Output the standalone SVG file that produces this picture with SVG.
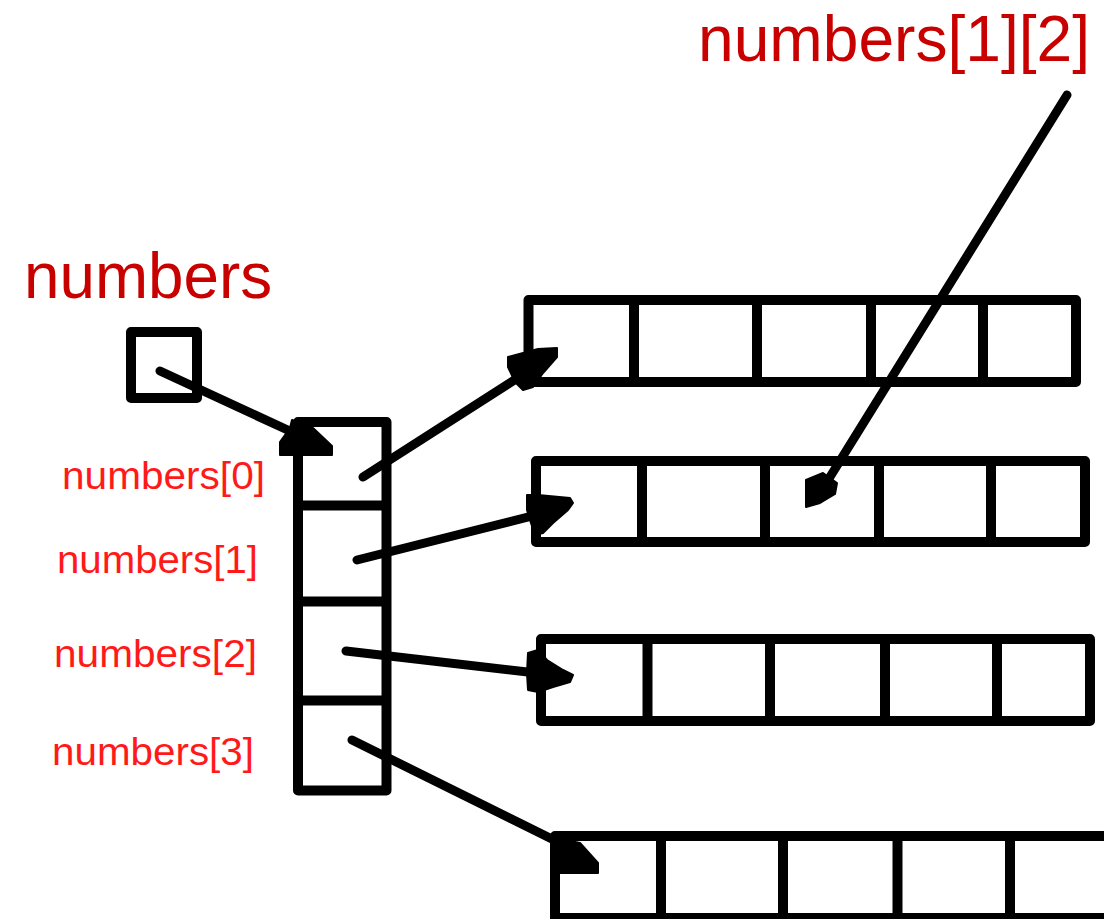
<svg xmlns="http://www.w3.org/2000/svg" width="1104" height="919" viewBox="0 0 1104 919">
<style>
.box{fill:none;stroke:#000;stroke-width:10;stroke-linejoin:round}
.div{stroke:#000;stroke-width:10}
.con{stroke:#000;stroke-width:9;stroke-linecap:round;fill:none}
.head{fill:#000;stroke:#000;stroke-width:2;stroke-linejoin:round}
.big{font-family:"Liberation Sans",Arial,sans-serif;font-size:64px;fill:#c80000}
.small{font-family:"Liberation Sans",Arial,sans-serif;font-size:39px;fill:#ff1a1a}
</style>
<rect width="1104" height="919" fill="#fff"/>
<g id="label-numbers"><text class="big" x="24" y="298" textLength="248" lengthAdjust="spacingAndGlyphs">numbers</text></g>
<g id="label-numbers12"><text class="big" x="698" y="61" textLength="392" lengthAdjust="spacingAndGlyphs">numbers[1][2]</text></g>
<g id="box-numbers"><rect class="box" x="131" y="332" width="66" height="66"/></g>
<g id="column">
<rect class="box" x="298" y="422" width="88.5" height="368.5"/>
<line class="div" x1="298" y1="505.5" x2="386.5" y2="505.5"/>
<line class="div" x1="298" y1="601.5" x2="386.5" y2="601.5"/>
<line class="div" x1="298" y1="700.5" x2="386.5" y2="700.5"/>
</g>
<g id="index-labels">
<text class="small" x="62" y="489" textLength="203" lengthAdjust="spacingAndGlyphs">numbers[0]</text>
<text class="small" x="57" y="573" textLength="201" lengthAdjust="spacingAndGlyphs">numbers[1]</text>
<text class="small" x="54" y="667" textLength="203" lengthAdjust="spacingAndGlyphs">numbers[2]</text>
<text class="small" x="52" y="765" textLength="202" lengthAdjust="spacingAndGlyphs">numbers[3]</text>
</g>
<g id="row0">
<rect class="box" x="528.5" y="300" width="547.5" height="82"/>
<line class="div" x1="634" y1="300" x2="634" y2="382"/>
<line class="div" x1="757" y1="300" x2="757" y2="382"/>
<line class="div" x1="871" y1="300" x2="871" y2="382"/>
<line class="div" x1="983" y1="300" x2="983" y2="382"/>
</g>
<g id="row1">
<rect class="box" x="536" y="461" width="549" height="81"/>
<line class="div" x1="642" y1="461" x2="642" y2="542"/>
<line class="div" x1="765" y1="461" x2="765" y2="542"/>
<line class="div" x1="879" y1="461" x2="879" y2="542"/>
<line class="div" x1="991" y1="461" x2="991" y2="542"/>
</g>
<g id="row2">
<rect class="box" x="541" y="639" width="549" height="82"/>
<line class="div" x1="647.5" y1="639" x2="647.5" y2="721"/>
<line class="div" x1="770" y1="639" x2="770" y2="721"/>
<line class="div" x1="885" y1="639" x2="885" y2="721"/>
<line class="div" x1="997" y1="639" x2="997" y2="721"/>
</g>
<g id="row3">
<rect class="box" x="555" y="836" width="570" height="82"/>
<line class="div" x1="661" y1="836" x2="661" y2="918"/>
<line class="div" x1="783" y1="836" x2="783" y2="918"/>
<line class="div" x1="897.5" y1="836" x2="897.5" y2="918"/>
<line class="div" x1="1010" y1="836" x2="1010" y2="918"/>
</g>
<g id="connectors">
<line class="con" x1="160" y1="371" x2="292" y2="432"/>
<polygon class="head" points="292,420 313,428 332,446 332,455 280,455 280,442 290,428"/>
<line class="con" x1="363" y1="477" x2="527" y2="372"/>
<polygon class="head" points="508,357 538,349 557,348 557,357 543,373 533,387 523,390 515,382 508,367"/>
<line class="con" x1="357" y1="560" x2="540" y2="514"/>
<polygon class="head" points="527,495 538,495 570,498 573,503 568,510 553,523 543,533 535,535 530,520 527,510"/>
<line class="con" x1="346" y1="651" x2="545" y2="674"/>
<polygon class="head" points="528,653 538,650 547,660 563,670 573,675 570,682 553,687 538,692 528,690 527,673"/>
<line class="con" x1="352" y1="740" x2="558" y2="842"/>
<polygon class="head" points="552,837 580,843 598,863 598,873 560,873 552,853"/>
<line class="con" x1="1067" y1="95" x2="825" y2="485"/>
<polygon class="head" points="806,480 823,473 837,483 835,494 820,503 806,507"/>
</g>
</svg>
